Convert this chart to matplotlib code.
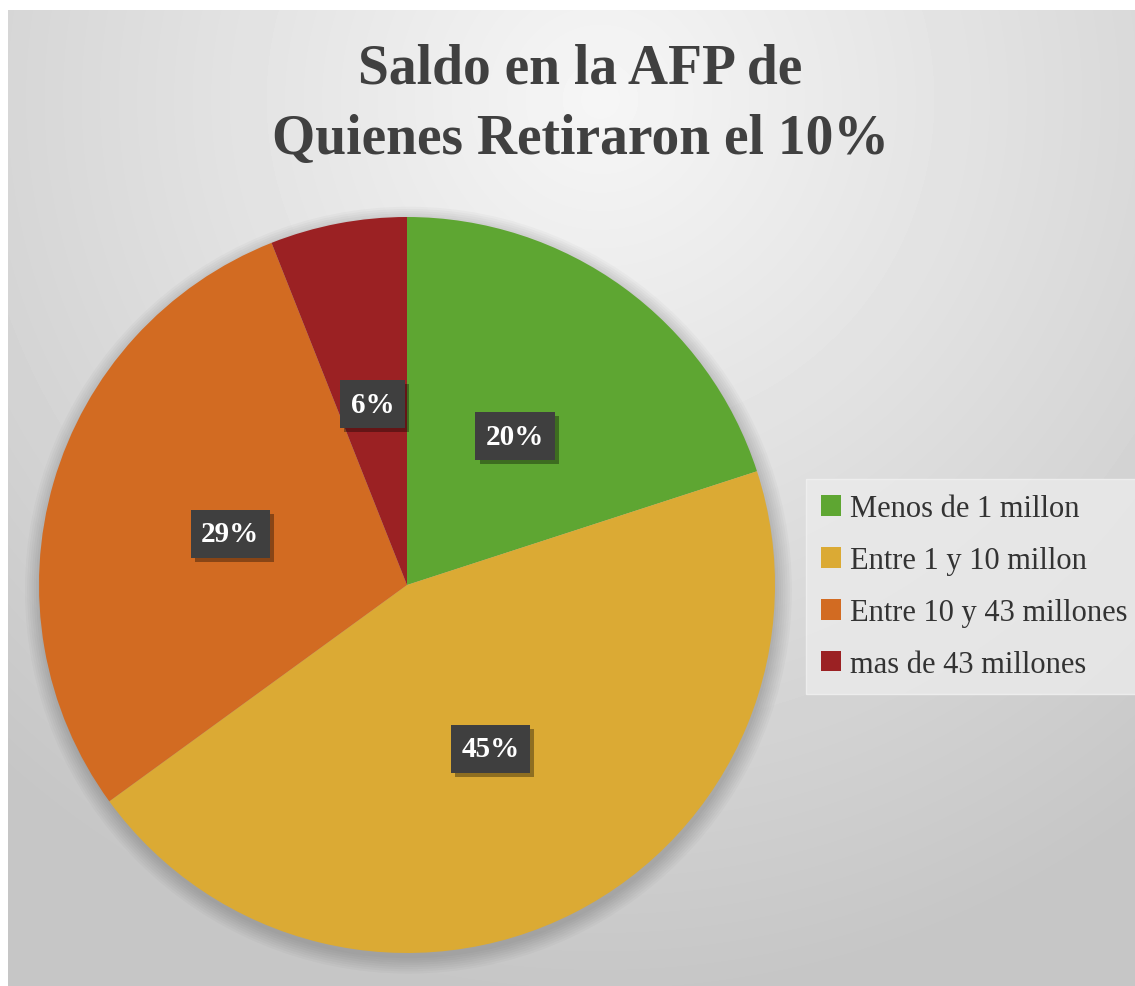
import numpy as np
import matplotlib
matplotlib.use('Agg')
import matplotlib.pyplot as plt
import matplotlib.patheffects as pe
from matplotlib.patches import Circle

# Data
categories = ['Menos de 1 millon', 'Entre 1 y 10 millon',
              'Entre 10 y 43 millones', 'mas de 43 millones']
shares = [20, 45, 29, 6]
colors = ['#5ea632', '#dbaa34', '#d26b22', '#9b2123']
title = 'Saldo en la AFP de\nQuienes Retiraron el 10%'

W, H = 1135, 987
fig = plt.figure(figsize=(W / 100, H / 100), dpi=100)
fig.patch.set_facecolor('white')

# Background: soft radial gradient (light at top, grey towards edges)
bg = fig.add_axes([8 / W, 0, 1 - 8 / W, (H - 11) / H], zorder=-10)
yy, xx = np.mgrid[11:H, 8:W]
d = np.clip(np.hypot(xx - 600, yy - 100) / 900, 0, 1)
shade = 0.965 - 0.19 * d
bg.imshow(shade, cmap='gray', vmin=0, vmax=1, aspect='auto',
          interpolation='bilinear')
bg.axis('off')

# Pie axes: centre (407, 586) px, radius 368 px
cx, cy, r = 407, 586, 368
ax = fig.add_axes([(cx - r) / W, (H - cy - r) / H, 2 * r / W, 2 * r / H])
ax.patch.set_alpha(0)

# soft shadow under the pie
for k in range(8):
    ax.add_patch(Circle((0.004, -0.014), 1.0 + 0.006 * k, color='black',
                        alpha=0.025, lw=0, zorder=0, clip_on=False))

wedges, texts, autotexts = ax.pie(
    shares, colors=colors, startangle=90, counterclock=False,
    autopct='%d%%', pctdistance=0.5, radius=1.0,
    wedgeprops=dict(linewidth=0, zorder=1),
    textprops=dict(color='white', fontsize=21, fontweight='bold',
                   family='Liberation Serif'))
ax.set_xlim(-1, 1)
ax.set_ylim(-1, 1)
ax.set_aspect('auto')
ax.axis('off')

for t in autotexts:
    t.set_zorder(5)
    t.set_bbox(dict(boxstyle='square,pad=0.36', facecolor='#3f3f3f',
                    edgecolor='none'))
    t.get_bbox_patch().set_path_effects(
        [pe.SimplePatchShadow(offset=(3, -3), shadow_rgbFace='black',
                              alpha=0.35), pe.Normal()])

fig.text(580 / W, 1 - 105 / H, title, ha='center', va='center',
         fontsize=40, fontweight='bold', family='Liberation Serif',
         color='#404040', linespacing=1.45)

leg = fig.legend(wedges, categories, loc='upper left',
                 bbox_to_anchor=(806 / W, 1 - 480 / H),
                 prop=dict(family='Liberation Serif', size=22),
                 handlelength=0.65, handleheight=0.65, handletextpad=0.3,
                 labelspacing=0.75, borderpad=0.5, frameon=True,
                 fancybox=False, borderaxespad=0)
leg.get_frame().set_facecolor('#ebebeb')
leg.get_frame().set_edgecolor('#f2f2f2')
for txt in leg.get_texts():
    txt.set_color('#333333')

fig.savefig('out.png', dpi=100)
